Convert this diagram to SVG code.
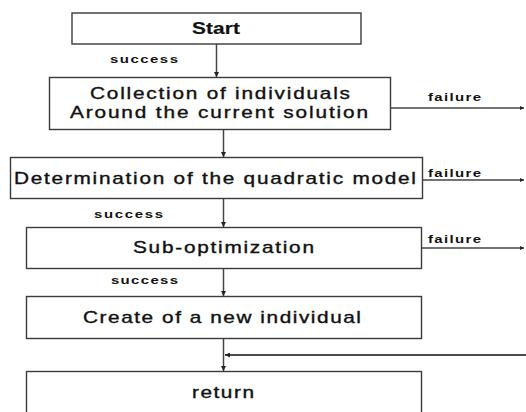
<svg xmlns="http://www.w3.org/2000/svg" width="526" height="412" viewBox="0 0 526 412">
  <style>
    .box { fill: #ffffff; stroke: #3a3a3a; stroke-width: 1.4; }
    .lbl { font-family: "Liberation Sans", Arial, sans-serif; font-size: 16px; fill: #111; stroke: #111; stroke-width: 0.35; }
    .bold { font-weight: bold; stroke-width: 0.2; }
    .tag { font-family: "Liberation Sans", Arial, sans-serif; font-size: 11.5px; font-weight: bold; fill: #111; }
    .flow { stroke: #444; stroke-width: 1.5; fill: none; }
    .back { stroke: #111; stroke-width: 1.5; fill: none; }
  </style>
  <defs>
    <marker id="tip" viewBox="0 0 8 8" refX="8" refY="4" markerWidth="5" markerHeight="5" orient="auto" markerUnits="userSpaceOnUse">
      <path d="M0,0 L8,4 L0,8 Z" fill="#222"/>
    </marker>
    <marker id="dot" viewBox="0 0 8 8" refX="8" refY="4" markerWidth="4" markerHeight="4" orient="auto" markerUnits="userSpaceOnUse">
      <path d="M0,0 L8,4 L0,8 Z" fill="#222"/>
    </marker>
  </defs>

  <rect width="526" height="412" fill="#ffffff"/>

  <g id="connectors">
    <line class="flow" x1="216.5" y1="44" x2="216.5" y2="77" marker-end="url(#tip)"/>
    <line class="flow" x1="223.5" y1="130" x2="223.5" y2="157" marker-end="url(#tip)"/>
    <line class="flow" x1="223.5" y1="199" x2="223.5" y2="227" marker-end="url(#tip)"/>
    <line class="flow" x1="223.5" y1="269" x2="223.5" y2="296" marker-end="url(#tip)"/>
    <line class="flow" x1="223.5" y1="339" x2="223.5" y2="371" marker-end="url(#tip)"/>
    <line class="flow" x1="391" y1="108" x2="524" y2="108" marker-end="url(#dot)"/>
    <line class="flow" x1="423" y1="180" x2="524" y2="180" marker-end="url(#dot)"/>
    <line class="flow" x1="422" y1="248" x2="524" y2="248" marker-end="url(#dot)"/>
    <line class="back" x1="526" y1="355" x2="225" y2="355" marker-end="url(#tip)"/>
    <!-- edge labels, drawn in a 1.3x horizontally widened frame -->
    <g transform="scale(1.3,1)">
      <text class="tag" x="84.62" y="63" textLength="52.31" lengthAdjust="spacing">success</text>
      <text class="tag" x="72.31" y="218" textLength="53.08" lengthAdjust="spacing">success</text>
      <text class="tag" x="85.38" y="284" textLength="51.54" lengthAdjust="spacing">success</text>
      <text class="tag" x="329.23" y="101" textLength="40.77" lengthAdjust="spacing">failure</text>
      <text class="tag" x="329.23" y="177" textLength="40.77" lengthAdjust="spacing">failure</text>
      <text class="tag" x="329.23" y="243" textLength="40.77" lengthAdjust="spacing">failure</text>
    </g>
  </g>

  <g id="start">
    <rect class="box" x="72" y="13" width="289" height="31"/>
    <text class="lbl bold" transform="scale(1.3,1)" x="147.69" y="34" textLength="36.92" lengthAdjust="spacing">Start</text>
  </g>

  <g id="collection">
    <rect class="box" x="49.5" y="77.5" width="341" height="52"/>
    <text class="lbl" transform="scale(1.3,1)" x="69.23" y="99" textLength="200" lengthAdjust="spacing">Collection of individuals</text>
    <text class="lbl" transform="scale(1.3,1)" x="53.85" y="118" textLength="229.23" lengthAdjust="spacing">Around the current solution</text>
  </g>

  <g id="quadratic">
    <rect class="box" x="10.5" y="157.5" width="412" height="41"/>
    <text class="lbl" transform="scale(1.3,1)" x="10.77" y="184" textLength="309.23" lengthAdjust="spacing">Determination of the quadratic model</text>
  </g>

  <g id="suboptimization">
    <rect class="box" x="26.5" y="227.5" width="395" height="41"/>
    <text class="lbl" transform="scale(1.3,1)" x="102.31" y="253" textLength="139.23" lengthAdjust="spacing">Sub-optimization</text>
  </g>

  <g id="create">
    <rect class="box" x="26.5" y="296.5" width="395" height="42"/>
    <text class="lbl" transform="scale(1.3,1)" x="63.85" y="323" textLength="213.85" lengthAdjust="spacing">Create of a new individual</text>
  </g>

  <g id="return">
    <rect class="box" x="26.5" y="371.5" width="395" height="50"/>
    <text class="lbl" transform="scale(1.3,1)" x="147.69" y="398" textLength="47.69" lengthAdjust="spacing">return</text>
  </g>
</svg>
